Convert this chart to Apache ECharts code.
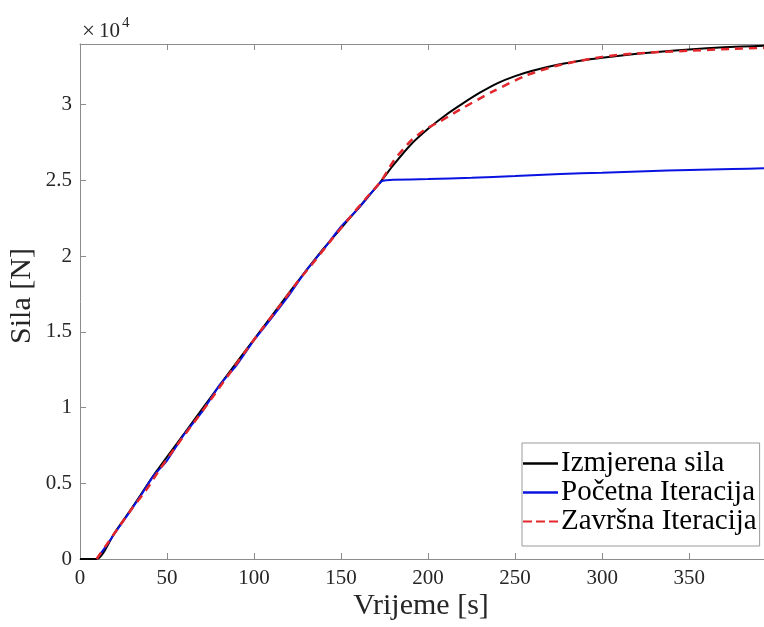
<!DOCTYPE html>
<html>
<head>
<meta charset="utf-8">
<script src="https://cdn.jsdelivr.net/npm/echarts@6/dist/echarts.min.js"></script>
<style>
html,body{margin:0;padding:0;background:#fff;overflow:hidden;}
#chart{width:764px;height:627px;}
</style>
</head>
<body>
<div id="chart"></div>
<script>
// Izmjerena sila (measured force)
const measuredT = [0, 9.5, 20, 30, 44, 60, 82, 100, 120, 140, 155, 165, 173, 180, 190, 200, 210, 220, 230, 240, 250, 260, 275, 290, 300, 320, 340, 360, 380, 393];
const measuredF = [0, 0, 1750, 3400, 5800, 8300, 11750, 14500, 17550, 20500, 22500, 23850, 24950, 26000, 27350, 28400, 29300, 30080, 30800, 31420, 31880, 32230, 32640, 32950, 33100, 33350, 33560, 33720, 33830, 33880];

// Početna Iteracija (initial iteration)
const initialT = [9.5, 15, 20, 27, 35, 42, 50, 60, 70, 80, 90, 100, 110, 120, 130, 140, 150, 160, 168, 173.4, 176, 180, 200, 225, 250, 276, 300, 325, 350, 375, 393];
const initialF = [0, 850, 1700, 2850, 4200, 5450, 6500, 8250, 9700, 11450, 12800, 14450, 15900, 17400, 19050, 20450, 21950, 23150, 24250, 24940, 25000, 25040, 25080, 25170, 25280, 25420, 25500, 25600, 25680, 25750, 25790];

// Završna Iteracija (final iteration)
const finalT = [9.5, 15, 22, 30, 38, 46, 55, 65, 75, 85, 95, 105, 115, 125, 135, 145, 155, 165, 173, 180, 190, 199, 207, 218, 237, 257, 275, 300, 320, 350, 375, 393];
const finalF = [0, 900, 2050, 3350, 4550, 5950, 7400, 8950, 10500, 12100, 13700, 15250, 16750, 18300, 19700, 21150, 22550, 23900, 24950, 26250, 27600, 28400, 28900, 29650, 30850, 31950, 32600, 33150, 33380, 33560, 33680, 33740];

const xTicks = {min: 0, max: 393, interval: 50};
const yTicks = {min: 0, max: 34000, interval: 5000};
const legendNames = ['Izmjerena sila', 'Početna Iteracija', 'Završna Iteracija'];

const pairs = (t, f) => t.map((v, i) => [v, f[i]]);
const serif = 'Liberation Serif';
const axisGray = '#8c8c8c';
const labelColor = '#262626';
const dashIcon = 'path://M0,0h9v2h-9z M13,0h9v2h-9z M26,0h9v2h-9z';

const chart = echarts.init(document.getElementById('chart'));
chart.setOption({
  animation: false,
  backgroundColor: '#fff',
  grid: {left: 80, right: 0, top: 44, bottom: 68, containLabel: false},
  xAxis: [{
    type: 'value', min: xTicks.min, max: xTicks.max, interval: xTicks.interval,
    axisLine: {show: true, lineStyle: {color: axisGray, width: 1}},
    axisTick: {show: true, inside: true, length: 6, lineStyle: {color: axisGray}},
    axisLabel: {fontFamily: serif, fontSize: 21, color: labelColor, margin: 9, showMaxLabel: false},
    splitLine: {show: false}
  }, {
    type: 'value', position: 'top', min: xTicks.min, max: xTicks.max, interval: xTicks.interval,
    axisLine: {show: true, onZero: false, lineStyle: {color: axisGray, width: 1}},
    axisTick: {show: true, inside: true, length: 6, lineStyle: {color: axisGray}},
    axisLabel: {show: false},
    splitLine: {show: false}
  }],
  yAxis: {
    type: 'value', min: yTicks.min, max: yTicks.max, interval: yTicks.interval,
    axisLine: {show: true, lineStyle: {color: axisGray, width: 1}},
    axisTick: {show: true, inside: true, length: 6, lineStyle: {color: axisGray}},
    axisLabel: {fontFamily: serif, fontSize: 21, color: labelColor, margin: 8, showMaxLabel: false,
      formatter: v => String(v / 10000)},
    splitLine: {show: false}
  },
  legend: {
    orient: 'vertical', left: 522, top: 443,
    backgroundColor: '#fff', borderColor: '#9a9a9a', borderWidth: 1,
    padding: [6, 3, 10, 1], itemGap: 0, itemWidth: 35, itemHeight: 2.5,
    textStyle: {fontFamily: serif, fontSize: 29, color: '#000', lineHeight: 28, padding: [0, 0, 0, -2]},
    data: [
      {name: legendNames[0], icon: 'rect'},
      {name: legendNames[1], icon: 'rect'},
      {name: legendNames[2], icon: dashIcon}
    ]
  },
  series: [
    {name: legendNames[0], type: 'line', data: pairs(measuredT, measuredF), smooth: 0.25, symbol: 'none',
      lineStyle: {color: '#000', width: 2}, itemStyle: {color: '#000'}},
    {name: legendNames[1], type: 'line', data: pairs(initialT, initialF), smooth: 0.15, symbol: 'none',
      lineStyle: {color: '#0a14e0', width: 2}, itemStyle: {color: '#0a14e0'}},
    {name: legendNames[2], type: 'line', data: pairs(finalT, finalF), smooth: 0.25, symbol: 'none',
      lineStyle: {color: '#e3262b', width: 2.5, type: [8, 6]}, itemStyle: {color: '#e3262b'}}
  ],
  graphic: [
    {type: 'text', left: 82, top: 20, style: {text: '×', font: '23px "Liberation Serif"', fill: labelColor}},
    {type: 'text', left: 99, top: 21, style: {text: '10', font: '21px "Liberation Serif"', fill: labelColor}},
    {type: 'text', left: 122, top: 16, style: {text: '4', font: '15px "Liberation Serif"', fill: labelColor}},
    {type: 'text', x: 22, y: 296, rotation: Math.PI / 2,
      style: {text: 'Sila [N]', font: '30px "Liberation Serif"', fill: labelColor, align: 'center', verticalAlign: 'middle'}},
    {type: 'text', x: 421, y: 606,
      style: {text: 'Vrijeme [s]', font: '30px "Liberation Serif"', fill: labelColor, align: 'center', verticalAlign: 'middle'}}
  ]
});
</script>
</body>
</html>
